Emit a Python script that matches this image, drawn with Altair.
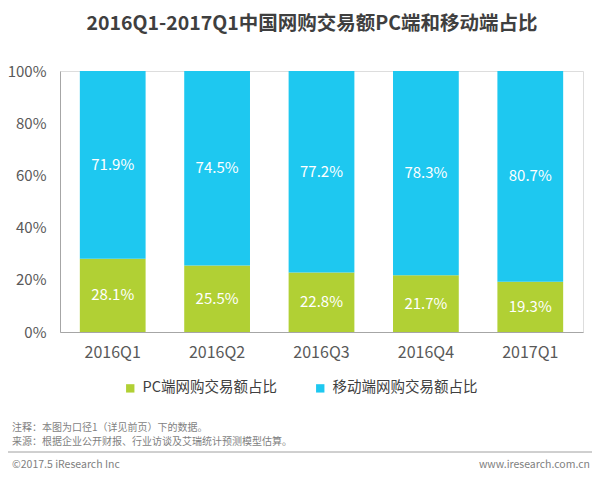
import altair as alt
import pandas as pd

quarters = ["2016Q1", "2016Q2", "2016Q3", "2016Q4", "2017Q1"]
pc_share = [28.1, 25.5, 22.8, 21.7, 19.3]
mobile_share = [71.9, 74.5, 77.2, 78.3, 80.7]
series_names = ["PC端网购交易额占比", "移动端网购交易额占比"]
series_colors = ["#B1D034", "#1EC8F0"]
y_ticks = [0, 0.2, 0.4, 0.6, 0.8, 1.0]

title_text = "2016Q1-2017Q1中国网购交易额PC端和移动端占比"
note_text = "注释：本图为口径1（详见前页）下的数据。"
source_text = "来源：根据企业公开财报、行业访谈及艾瑞统计预测模型估算。"
copyright_text = "©2017.5 iResearch Inc"
url_text = "www.iresearch.com.cn"

rows = []
for q, p, m in zip(quarters, pc_share, mobile_share):
    rows.append({"quarter": q, "series": series_names[0], "value": p / 100, "order": 0, "label": f"{p:.1f}%"})
    rows.append({"quarter": q, "series": series_names[1], "value": m / 100, "order": 1, "label": f"{m:.1f}%"})
df = pd.DataFrame(rows)

FONT = "Noto Sans CJK SC"

x_enc = alt.X("quarter:N", sort=quarters,
              scale=alt.Scale(paddingInner=0.37, paddingOuter=0.19),
              axis=alt.Axis(title=None, labelAngle=0, ticks=False, domainColor="#a6a6a6",
                            labelFontSize=16, labelColor="#595959", labelPadding=12,
                            labelFont=FONT))

bars = alt.Chart(df).mark_bar().encode(
    x=x_enc,
    y=alt.Y("value:Q", stack="zero",
            scale=alt.Scale(domain=[0, 1], nice=False),
            axis=alt.Axis(title=None, format="%", values=y_ticks, ticks=False, grid=False,
                          domainColor="#a6a6a6", labelFontSize=15, labelColor="#595959",
                          labelPadding=14, labelFont=FONT)),
    color=alt.Color("series:N", sort=series_names,
                    scale=alt.Scale(domain=series_names, range=series_colors),
                    legend=alt.Legend(title=None, orient="none", legendX=63, legendY=310,
                                      direction="horizontal", symbolType="square",
                                      symbolSize=70, symbolStrokeWidth=0,
                                      labelFontSize=14.5, labelColor="#404040", labelFont=FONT,
                                      labelOffset=5, columnPadding=36, labelLimit=300)),
    order=alt.Order("order:Q", sort="ascending"),
)

labels = alt.Chart(df).transform_stack(
    stack="value", groupby=["quarter"], as_=["v0", "v1"],
    sort=[alt.SortField("order", order="ascending")]
).transform_calculate(
    mid="(datum.v0 + datum.v1) / 2"
).mark_text(color="white", fontSize=15, font=FONT).encode(
    x=alt.X("quarter:N", sort=quarters),
    y=alt.Y("mid:Q"),
    text="label:N",
)

def ann(text, x, y, size, color, align="left", weight="normal"):
    return alt.Chart(pd.DataFrame({"t": [text]})).mark_text(
        align=align, baseline="middle", fontSize=size, color=color, font=FONT, fontWeight=weight
    ).encode(text="t:N", x=alt.value(x), y=alt.value(y))

note = ann(note_text, -48, 357, 10, "#7f7f7f")
source = ann(source_text, -48, 371, 10, "#7f7f7f")
copyright_ = ann(copyright_text, -48, 394, 10.5, "#7f7f7f")
url = ann(url_text, 530, 394, 10.5, "#7f7f7f", align="right")

sep = alt.Chart(pd.DataFrame({"a": [0]})).mark_rule(color="#a0a0a0", strokeWidth=1).encode(
    x=alt.value(-60), x2=alt.value(540), y=alt.value(381)
)

chart = alt.layer(bars, labels, note, source, copyright_, url, sep).properties(
    width=523, height=261,
    autosize=alt.AutoSizeParams(type="none"),
    padding={"left": 52, "top": 63, "right": 9, "bottom": 146},
    title=alt.TitleParams(title_text, anchor="middle", frame="group", orient="top",
                          fontSize=19.5, fontWeight="bold", color="#3f3f3f", font=FONT,
                          baseline="middle", offset=0, dx=-9.5, dy=-21),
).configure_view(stroke="#d9d9d9", strokeWidth=1).configure(font=FONT)

chart.save("out.html", embed_options={"renderer": "svg", "actions": False})
